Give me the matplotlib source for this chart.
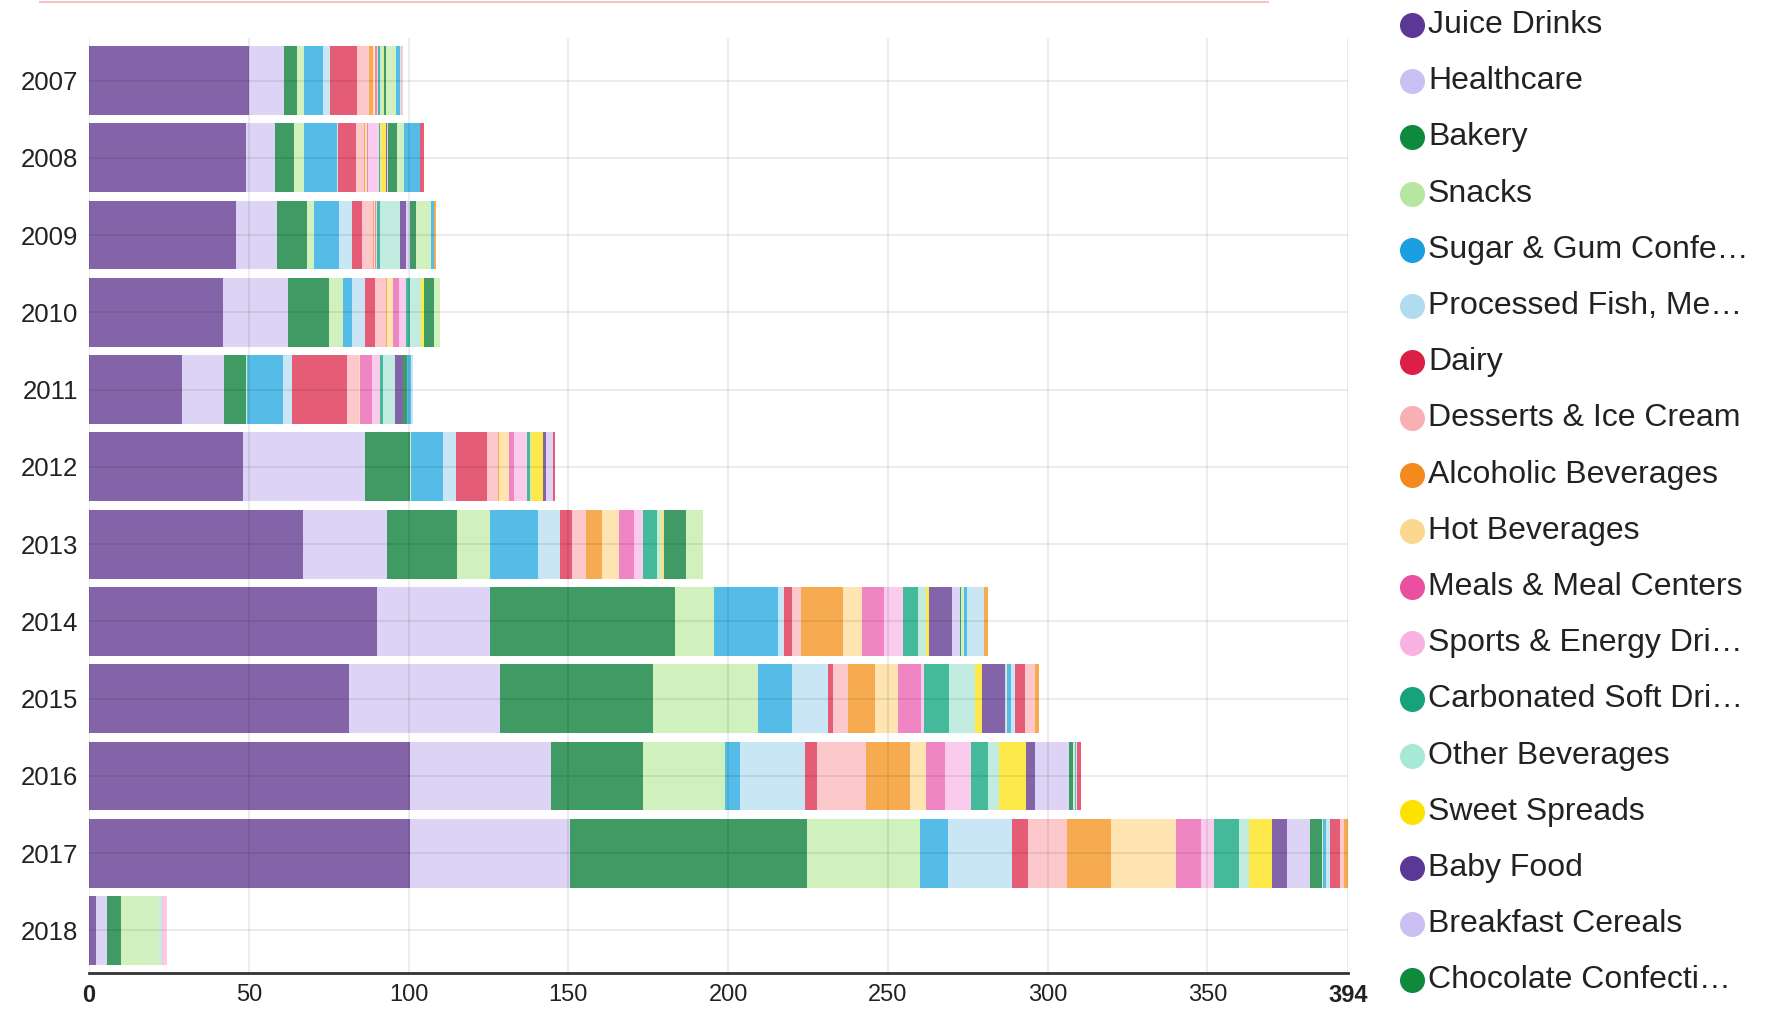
import numpy as np
import matplotlib.pyplot as plt
from matplotlib.lines import Line2D

plt.rcParams['font.family'] = ['Liberation Sans', 'DejaVu Sans']

years = ['2007', '2008', '2009', '2010', '2011', '2012',
         '2013', '2014', '2015', '2016', '2017', '2018']

categories = ['Juice Drinks', 'Healthcare', 'Bakery', 'Snacks',
              'Sugar & Gum Confectionery', 'Processed Fish, Meat & Eggs',
              'Dairy', 'Desserts & Ice Cream', 'Alcoholic Beverages',
              'Hot Beverages', 'Meals & Meal Centers', 'Sports & Energy Drinks',
              'Carbonated Soft Drinks', 'Other Beverages', 'Sweet Spreads',
              'Baby Food', 'Breakfast Cereals', 'Chocolate Confectionery',
              'Fruit & Vegetables', 'Sauces & Condiments', 'Soups',
              'Frozen Foods', 'Bottled Water', 'Pet Food']

# legend only lists the first 18, names cut off like in the original
legend_labels = ['Juice Drinks', 'Healthcare', 'Bakery', 'Snacks',
                 'Sugar & Gum Confe\u2026', 'Processed Fish, Me\u2026',
                 'Dairy', 'Desserts & Ice Cream', 'Alcoholic Beverages',
                 'Hot Beverages', 'Meals & Meal Centers', 'Sports & Energy Dri\u2026',
                 'Carbonated Soft Dri\u2026', 'Other Beverages', 'Sweet Spreads',
                 'Baby Food', 'Breakfast Cereals', 'Chocolate Confecti\u2026']

# values per year, in category order
v2007 = [50, 11, 4.2, 2.1, 6, 2.1, 8.6, 3.7, 1.3, 0.5, 0.5, 0.3, 0.8, 0.8, 0.3, 0, 0, 0.8, 3.2, 1.2, 0.2, 0, 0.7, 0]
v2008 = [49.1, 9.1, 6, 3.1, 10.2, 0.3, 5.8, 2.5, 0.3, 0.5, 0.5, 3.2, 0.3, 0.4, 1.6, 0.3, 0.4, 2.9, 2.1, 5, 0, 1.1, 0, 0]
v2009 = [46, 12.7, 9.6, 2, 7.8, 4.2, 3, 3.5, 0.3, 0.5, 0.3, 0.3, 1, 6, 0, 1.9, 1.2, 2, 4.7, 1, 0, 0, 0, 0.7]
v2010 = [42, 20.4, 12.8, 4.2, 2.8, 4.2, 3.1, 3.5, 0.3, 1.9, 1.9, 2, 1.2, 3.6, 1, 0, 0, 3.2, 1.8, 0, 0, 0, 0, 0]
v2011 = [29, 13.3, 6.8, 0.3, 11.2, 2.8, 17.2, 4, 0, 0.3, 3.8, 2.2, 1, 3.9, 0, 2.6, 0, 1, 0, 1.5, 0.5, 0, 0, 0]
v2012 = [48.1, 38.3, 14.1, 0.3, 9.9, 4.2, 9.7, 3.3, 0.3, 3.1, 1.6, 4.2, 1, 0.3, 3.6, 1, 2.3, 0, 0, 0, 0, 0.5, 0, 0]
v2013 = [67.1, 26.2, 22, 10.3, 14.8, 7.1, 3.7, 4.3, 5, 5.2, 4.7, 3.1, 4.1, 1.5, 0.6, 0, 0.3, 6.8, 5.3, 0, 0, 0, 0, 0]
v2014 = [90.2, 35.4, 57.8, 12.3, 20, 1.9, 2.3, 2.8, 13.1, 6, 7, 6, 4.7, 2.4, 1, 7, 2.6, 0.3, 1, 1.1, 5.2, 0, 0, 1.3]
v2015 = [81.3, 47.3, 48, 32.6, 10.8, 11.2, 1.7, 4.5, 8.6, 7.2, 7.2, 1, 7.6, 8.2, 2.2, 7.1, 0.3, 0.2, 0.3, 1.2, 1.4, 3, 3.2, 1.1]
v2016 = [100.5, 44.2, 28.8, 25.4, 4.7, 20.4, 3.8, 15.3, 13.7, 5, 6, 8.1, 5.3, 3.6, 8.3, 2.9, 10.6, 1.4, 0.5, 0.3, 0.5, 1.0, 0, 0]
v2017 = [100.5, 49.9, 74.3, 35.2, 8.8, 20.1, 5, 12.2, 13.7, 20.4, 7.9, 4, 7.9, 3.2, 7.2, 4.7, 7.2, 3.5, 0.5, 1, 1.1, 3.1, 1.4, 1.2]
v2018 = [2.3, 3.3, 4.5, 11.8, 0, 1, 0, 0.5, 0, 0, 0, 1, 0, 0, 0, 0, 0, 0, 0, 0, 0, 0, 0, 0]

values = np.array([v2007, v2008, v2009, v2010, v2011, v2012,
                   v2013, v2014, v2015, v2016, v2017, v2018])

# palette repeats every 15 series
bar_base = ['#8464a8', '#dcd3f5', '#409a64', '#d0f0bd', '#55bbe7',
            '#c8e6f3', '#e45c75', '#fcc8cb', '#f6ab50', '#fde4b0',
            '#ef85c2', '#fbcbee', '#45ba9b', '#c1ecdf', '#fde94a']
dot_base = ['#5b3796', '#cbc0f3', '#0f8a3c', '#b6e6a0', '#1a9fe0',
            '#b0dcf0', '#dc1f46', '#f9b0b5', '#f28a1d', '#fcd790',
            '#e9509f', '#f8b3e3', '#16a37c', '#a8e8d6', '#fde200']
bar_colors = [bar_base[i % 15] for i in range(len(categories))]
dot_colors = [dot_base[i % 15] for i in range(len(legend_labels))]

fig = plt.figure(figsize=(17.74, 10.09), dpi=100)
ax = fig.add_axes([0.0502, 0.0357, 0.7097, 0.9266])

ypos = np.arange(len(years))
left = np.zeros(len(years))
for j in range(len(categories)):
    ax.barh(ypos, values[:, j], left=left, height=0.89,
            color=bar_colors[j], linewidth=0, zorder=1)
    left += values[:, j]

ax.set_xlim(0, 394)
ax.set_ylim(11.55, -0.55)
xticks = [0, 50, 100, 150, 200, 250, 300, 350, 394]
ax.set_xticks(xticks)
ax.set_yticks(ypos, years)
ax.set_axisbelow(False)
ax.grid(True, color='black', alpha=0.075, linewidth=1.4)

for s in ['top', 'right', 'left']:
    ax.spines[s].set_visible(False)
ax.spines['bottom'].set_color('#333333')
ax.spines['bottom'].set_linewidth(2)
ax.spines['bottom'].set_zorder(4)

ax.tick_params(length=0, colors='#222222')
ax.tick_params(axis='y', pad=8, labelsize=18.5)
ax.tick_params(axis='x', pad=8, labelsize=17)
xl = ax.get_xticklabels()
xl[0].set_fontweight('bold')
xl[-1].set_fontweight('bold')

# legend on the right
W, H = 1774, 1009
for i, lab in enumerate(legend_labels):
    yc = 1 - (25 + i * 56.2) / H
    fig.add_artist(Line2D([1412 / W], [yc], marker='o', markersize=17,
                          color=dot_colors[i], linestyle='none',
                          transform=fig.transFigure))
    fig.text(1428 / W, yc, lab, fontsize=23, color='#222222',
             va='center', ha='left')

# cut off element at the very top
fig.add_artist(Line2D([40 / W, 1268 / W], [1 - 1.5 / H, 1 - 1.5 / H],
                      color='#f7c4c4', linewidth=1.5,
                      transform=fig.transFigure))

fig.savefig('out.png', dpi=100)
